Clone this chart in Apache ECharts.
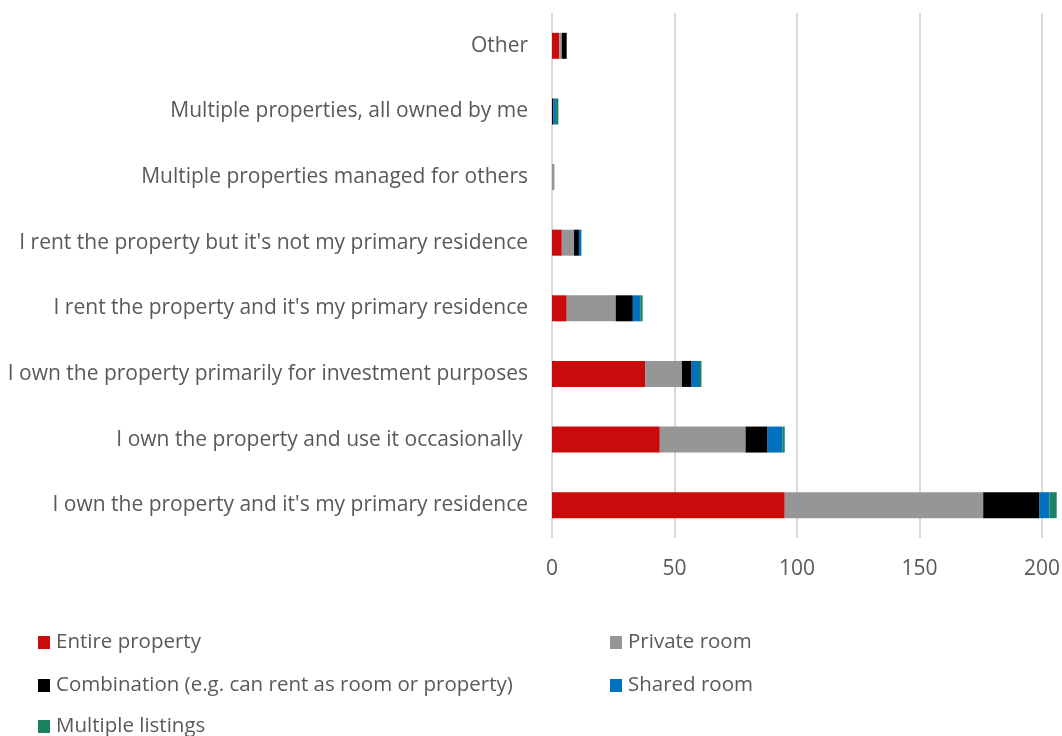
<!DOCTYPE html>
<html>
<head>
<meta charset="utf-8">
<script src="https://cdn.jsdelivr.net/npm/echarts@6/dist/echarts.min.js"></script>
<style>
  html, body { margin: 0; padding: 0; background: #fff; }
  #canvas { width: 1062px; height: 736px; }
</style>
</head>
<body>
<div id="canvas"></div>
<script>
// categories, top to bottom
let categories = [
  'Other',
  'Multiple properties, all owned by me',
  'Multiple properties managed for others',
  "I rent the property but it's not my primary residence",
  "I rent the property and it's my primary residence",
  'I own the property primarily for investment purposes',
  'I own the property and use it occasionally ',
  "I own the property and it's my primary residence"
];

let entireProperty = [3, 0, 0, 4, 6, 38, 44, 95];
let privateRoom = [1, 0, 1, 5, 20, 15, 35, 81];
let combination = [2, 0.6, 0, 2, 7, 4, 9, 23];
let sharedRoom = [0, 1, 0, 1, 3, 3, 6, 4];
let multipleListings = [0, 1, 0, 0, 1, 1, 1, 3];

let xTicks = [0, 50, 100, 150, 200, 250];

let font = '"Open Sans", "Noto Sans", sans-serif';
let textColor = '#595959';
let fontSize = 21;

let makeSeries = (name, data, color) => ({
  name: name,
  type: 'bar',
  stack: 'total',
  barWidth: 26,
  data: data,
  itemStyle: { color: color },
  emphasis: { disabled: true },
});

// one legend per item so the two columns line up like the original
let legendItems = [
  { name: 'Entire property', left: 38, top: 641 },
  { name: 'Private room', left: 610, top: 641 },
  { name: 'Combination (e.g. can rent as room or property)', left: 38, top: 684 },
  { name: 'Shared room', left: 610, top: 684 },
  { name: 'Multiple listings', left: 38, top: 725 },
];

let myChart = echarts.init(document.getElementById('canvas'));
let option = {
  animation: false,
  textStyle: { fontFamily: font },
  grid: {
    left: 552,
    width: 2.45 * xTicks[xTicks.length - 1],
    top: 13,
    height: 525,
    outerBoundsMode: 'none',
  },
  legend: legendItems.map(item => ({
    left: item.left,
    top: item.top - 9,
    padding: 0,
    itemWidth: 12,
    itemHeight: 13,
    icon: 'rect',
    textStyle: { color: textColor, fontSize: 20.5, fontFamily: font, padding: [0, 0, 0, 1] },
    data: [item.name],
  })),
  xAxis: {
    type: 'value',
    min: xTicks[0],
    max: xTicks[xTicks.length - 1],
    interval: 50,
    axisLine: { show: false },
    axisTick: { show: false },
    axisLabel: { color: textColor, fontSize: fontSize, fontFamily: font, margin: 21 },
    splitLine: { lineStyle: { color: '#d9d9d9', width: 2 } },
  },
  yAxis: {
    type: 'category',
    inverse: true,
    data: categories,
    axisLine: { show: false },
    axisTick: { show: false },
    axisLabel: { color: textColor, fontSize: fontSize, fontFamily: font, margin: 24 },
  },
  series: [
    makeSeries('Entire property', entireProperty, '#C90B0B'),
    makeSeries('Private room', privateRoom, '#969696'),
    makeSeries('Combination (e.g. can rent as room or property)', combination, '#000000'),
    makeSeries('Shared room', sharedRoom, '#0070C0'),
    makeSeries('Multiple listings', multipleListings, '#1A8263'),
  ],
};
myChart.setOption(option, true);
</script>
</body>
</html>
